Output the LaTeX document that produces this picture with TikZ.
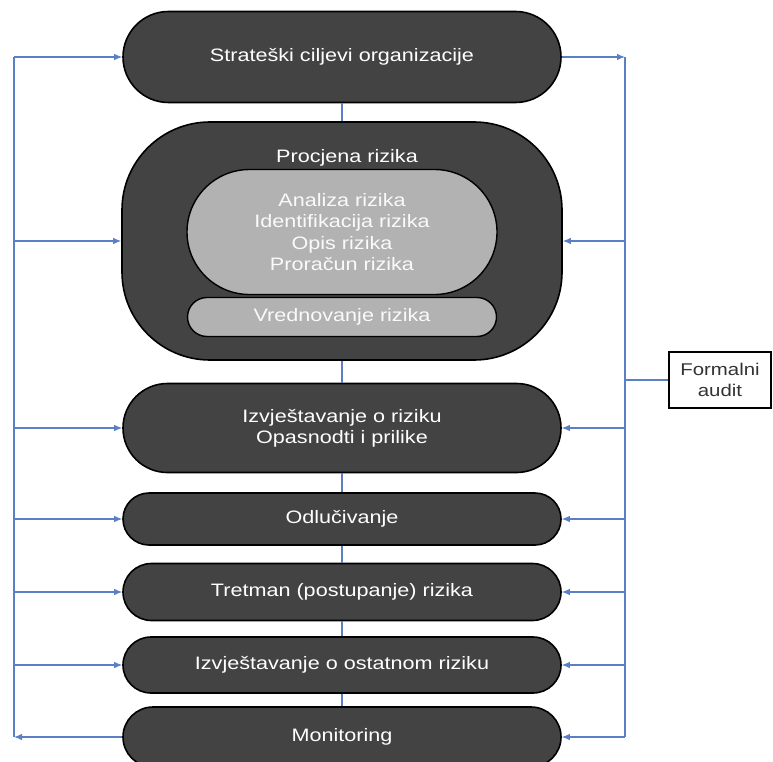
\documentclass[tikz,border=0pt]{standalone}
\usepackage{fontspec}
\setmainfont[FakeStretch=1.2]{Liberation Sans}
\usetikzlibrary{positioning,arrows.meta,shapes.misc}
\definecolor{stagegray}{HTML}{434343}
\definecolor{subgray}{HTML}{B2B2B2}
\definecolor{feedblue}{HTML}{5B7FC4}
\tikzset{
    stage/.style={rounded rectangle, draw=black, line width=1.6pt,
      fill=stagegray, text=white, minimum width=438pt, inner sep=0pt,
      align=center, font=\fontsize{18}{21}\selectfont}, % dark process boxes
    substage/.style={rounded rectangle, draw=black, line width=1.4pt,
      fill=subgray, text=white!96!gray, minimum width=310pt, inner sep=0pt,
      align=center, font=\fontsize{18}{21.5}\selectfont}, % light boxes inside the assessment
    feed/.style={draw=feedblue, line width=1.1pt},
    feedarrow/.style={feed, -{Latex[length=8pt,width=6.5pt]}, feedblue},
}

\begin{document}
\begin{tikzpicture}[x=1pt,y=-1pt]
  \useasboundingbox (0,0) rectangle (773,762);

  % main chain
  \node[stage, minimum height=91pt] (strat) at (342,57) {Strateški ciljevi organizacije};
  \node[rectangle, rounded corners=88pt, draw=black, line width=1.6pt,
      fill=stagegray, minimum width=440pt, minimum height=238pt] (procjena) at (342,241) {};
  \node[text=white, font=\fontsize{18}{21}\selectfont] (procjenatxt) at (347,158) {Procjena rizika};
  \node[substage, minimum height=125pt] (analiza) at (342,232)
      {Analiza rizika\\Identifikacija rizika\\Opis rizika\\Proračun rizika};
  \node[substage, minimum width=309pt, minimum height=39pt] (vrednovanje) at (342,317) {Vrednovanje rizika};
  \node[stage, minimum height=89pt] (izvj) at (342,428) {Izvještavanje o riziku\\Opasnodti i prilike};
  \node[stage, minimum height=52pt] (odluc) at (342,519) {Odlučivanje};
  \node[stage, minimum height=57pt] (tretman) at (342,592) {Tretman (postupanje) rizika};
  \node[stage, minimum height=56pt] (ostat) at (342,665) {Izvještavanje o ostatnom riziku};
  \node[stage, minimum height=60pt] (monit) at (342,737) {Monitoring};

  % audit box
  \node[draw=black, line width=1.4pt, fill=white, text=black!80, align=center,
      minimum width=102pt, minimum height=56pt, inner sep=0pt,
      font=\fontsize{17}{21}\selectfont] (audit) at (720,380) {Formalni\\audit};

  % feedback lines
  \coordinate (Ltop) at (14,57);
  \coordinate (Lbot) at (14,737);
  \coordinate (Rtop) at (625,57);
  \coordinate (Rbot) at (625,737);

  \foreach \a/\b in {strat/procjena,procjena/izvj,izvj/odluc,odluc/tretman,tretman/ostat,ostat/monit}
    \draw[feed] (\a.south) -- (\b.north);

  \draw[feed] (Ltop) -- (Lbot);
  \draw[feed] (Rtop) -- (Rbot);
  \foreach \n in {strat,procjena,izvj,odluc,tretman,ostat}
    \draw[feedarrow] (\n.west -| Ltop) -- (\n.west);
  \draw[feedarrow] (monit.west) -- (Lbot);

  \draw[feedarrow] (strat.east) -- (Rtop);
  \foreach \n in {procjena,izvj,odluc,tretman,ostat,monit}
    \draw[feedarrow] (\n.east -| Rtop) -- (\n.east);
  \draw[feed] (audit.west) -- (audit.west -| Rtop);
\end{tikzpicture}
\end{document}
